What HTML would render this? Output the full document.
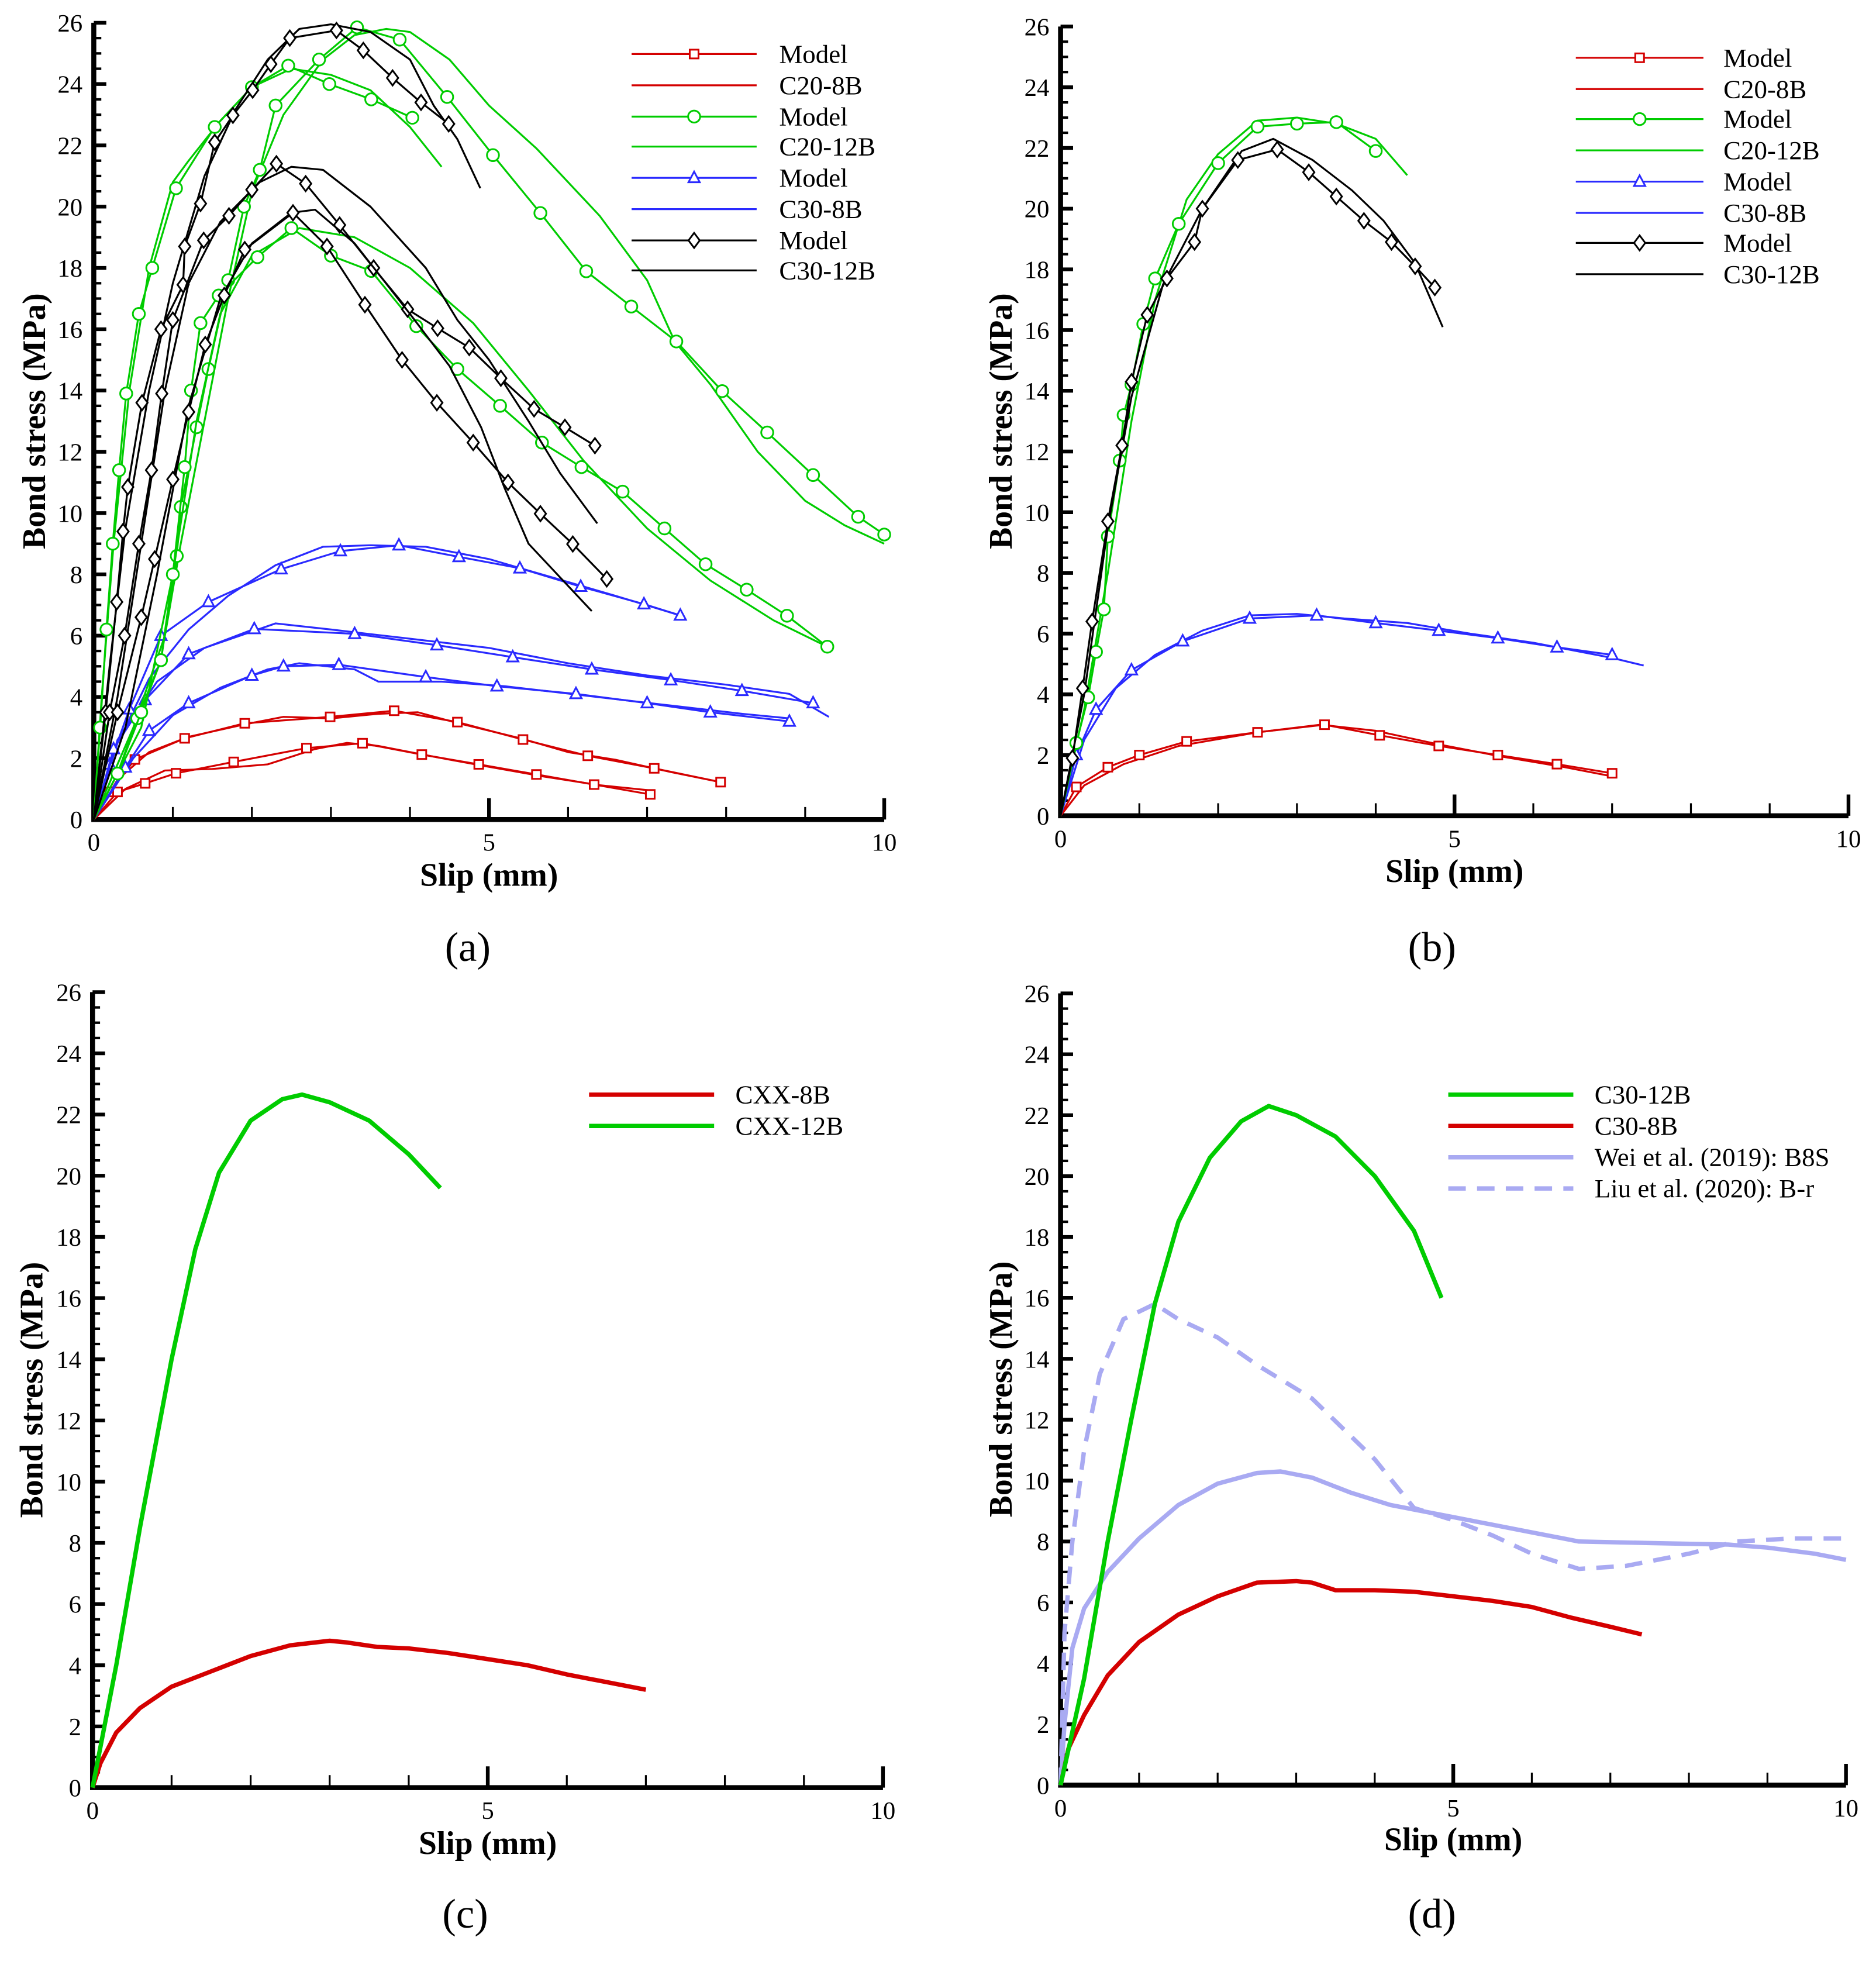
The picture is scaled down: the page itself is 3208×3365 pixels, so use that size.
<!DOCTYPE html>
<html><head><meta charset="utf-8"><style>
html,body{margin:0;padding:0;background:#fff;}
svg{display:block;}
text{font-family:"Liberation Serif",serif;fill:#000;}
</style></head><body>
<svg id="chart" xmlns="http://www.w3.org/2000/svg" width="3208" height="3365" viewBox="0 0 1500 1573">
<rect x="0" y="0" width="1500" height="1573" fill="#fff"/>
</svg>
<script>
// ---- Panel (a) data [slip mm, stress MPa] ----
const aRedUpModel=[[0,0],[0.2,0.9],[0.52,1.96],[1.15,2.65],[1.91,3.14],[2.99,3.35],[3.8,3.55],[4.6,3.18],[5.43,2.61],[6.25,2.08],[7.09,1.67],[7.93,1.22]];
const aRedUpExp=[[0,0],[0.3,1.3],[0.7,2.2],[1.2,2.7],[1.9,3.1],[2.4,3.35],[3.0,3.3],[3.6,3.45],[4.1,3.5],[4.6,3.15],[5.4,2.65],[6.0,2.2],[6.6,1.95],[7.3,1.55],[7.93,1.22]];
const aRedLoModel=[[0,0],[0.3,0.9],[0.65,1.18],[1.04,1.51],[1.77,1.88],[2.69,2.33],[3.4,2.49],[4.15,2.12],[4.87,1.8],[5.6,1.47],[6.33,1.14],[7.04,0.82]];
const aRedLoExp=[[0,0],[0.4,1.0],[0.9,1.6],[1.5,1.65],[2.2,1.8],[2.8,2.3],[3.2,2.5],[3.6,2.4],[4.3,2.05],[5.0,1.72],[5.7,1.4],[6.4,1.12],[7.04,0.95]];
const aBlueTopModel=[[0,0],[0.2,1.8],[0.45,3.6],[0.85,6.0],[1.45,7.1],[2.37,8.17],[3.12,8.76],[3.86,8.95],[4.62,8.57],[5.39,8.2],[6.16,7.6],[6.96,7.03],[7.42,6.66]];
const aBlueTopExp=[[0,0],[0.3,2.5],[0.7,4.6],[1.2,6.2],[1.7,7.3],[2.3,8.3],[2.9,8.9],[3.5,8.95],[4.2,8.9],[5.0,8.5],[5.8,7.9],[6.6,7.3],[7.42,6.66]];
const aBlueMidModel=[[0,0],[0.25,2.3],[0.65,3.9],[1.2,5.4],[2.03,6.22],[3.3,6.06],[4.34,5.69],[5.3,5.3],[6.3,4.9],[7.3,4.55],[8.2,4.2],[9.1,3.8]];
const aBlueMidExp=[[0,0],[0.3,2.6],[0.8,4.5],[1.4,5.6],[2.3,6.4],[3.0,6.2],[4.0,5.9],[5.0,5.6],[6.0,5.1],[7.0,4.7],[8.0,4.4],[8.8,4.1],[9.3,3.35]];
const aBlueLoModel=[[0,0],[0.4,1.7],[0.7,2.9],[1.2,3.8],[2.0,4.7],[2.4,5.0],[3.1,5.05],[4.2,4.65],[5.1,4.35],[6.1,4.1],[7.0,3.8],[7.8,3.5],[8.8,3.2]];
const aBlueLoExp=[[0,0],[0.5,2.0],[1.0,3.4],[1.6,4.3],[2.2,4.9],[2.6,5.1],[3.3,4.9],[3.6,4.5],[4.4,4.5],[5.2,4.35],[6.2,4.05],[7.2,3.75],[8.2,3.45],[8.8,3.3]];
const aGreenTopModel=[[0,0],[0.3,1.5],[0.55,3.3],[0.85,5.2],[1.05,8.6],[1.1,10.2],[1.3,12.8],[1.45,14.7],[1.7,17.6],[1.9,20.0],[2.1,21.2],[2.3,23.3],[2.85,24.8],[3.33,25.85],[3.87,25.45],[4.47,23.58],[5.05,21.68],[5.65,19.79],[6.23,17.89],[6.8,16.74],[7.37,15.6],[7.95,13.98],[8.52,12.63],[9.1,11.24],[9.67,9.88],[10,9.3]];
const aGreenTopExp=[[0,0],[0.5,3],[0.9,6],[1.1,9],[1.4,13],[1.7,17],[2.0,20.5],[2.4,23],[2.9,24.8],[3.3,25.6],[3.7,25.8],[4.0,25.7],[4.5,24.8],[5.0,23.3],[5.6,21.9],[6.4,19.7],[7.0,17.6],[7.35,15.6],[7.8,14.2],[8.4,12.0],[9.0,10.4],[9.5,9.6],[10,9.0]];
const aGreenMidModel=[[0,0],[0.3,1.5],[0.6,3.5],[0.85,5.2],[1.0,8.0],[1.15,11.5],[1.23,14.0],[1.35,16.2],[1.58,17.1],[2.07,18.35],[2.5,19.3],[3.0,18.4],[3.51,17.9],[4.08,16.1],[4.6,14.7],[5.14,13.5],[5.67,12.3],[6.17,11.5],[6.69,10.7],[7.22,9.5],[7.74,8.33],[8.26,7.5],[8.77,6.65],[9.28,5.64]];
const aGreenMidExp=[[0,0],[0.6,3],[1.0,8],[1.3,13],[1.6,16.5],[2.0,18.4],[2.6,19.3],[3.3,19.0],[4.0,18.0],[4.8,16.2],[5.5,14.0],[6.2,11.7],[7.0,9.5],[7.8,7.8],[8.6,6.5],[9.28,5.64]];
const aGreenSteepModel=[[0,0],[0.08,3],[0.16,6.2],[0.24,9.0],[0.32,11.4],[0.41,13.9],[0.57,16.5],[0.74,18.0],[1.04,20.6],[1.53,22.6],[2.0,23.9],[2.46,24.6],[2.98,24.0],[3.51,23.5],[4.03,22.9]];
const aGreenSteepExp=[[0,0],[0.1,4],[0.25,9],[0.45,14],[0.7,18],[1.0,20.8],[1.2,21.5],[1.6,22.8],[2.0,23.9],[2.5,24.5],[3.0,24.3],[3.5,23.8],[4.0,22.6],[4.4,21.3]];
const aBlack1Model=[[0,0],[0.15,3.5],[0.29,7.1],[0.37,9.4],[0.43,10.85],[0.61,13.6],[0.85,16.0],[1.13,17.45],[1.15,18.7],[1.35,20.1],[1.53,22.1],[1.76,22.98],[2.01,23.8],[2.24,24.65],[2.48,25.5],[3.07,25.75],[3.41,25.1],[3.78,24.2],[4.14,23.4],[4.49,22.7]];
const aBlack1Exp=[[0,0],[0.2,5],[0.4,9.5],[0.7,14],[1.0,17.5],[1.4,21],[1.8,23.2],[2.2,24.8],[2.6,25.8],[3.0,25.95],[3.5,25.7],[4.0,24.8],[4.3,23.3],[4.6,22.2],[4.89,20.6]];
const aBlack2Model=[[0,0],[0.2,3.5],[0.39,6.0],[0.57,9.0],[0.73,11.4],[0.86,13.9],[1.0,16.3],[1.39,18.9],[1.71,19.7],[2.0,20.55],[2.31,21.4],[2.68,20.75],[3.11,19.4],[3.54,18.0],[3.97,16.65],[4.35,16.03],[4.75,15.4],[5.15,14.4],[5.57,13.4],[5.96,12.8],[6.34,12.2]];
const aBlack2Exp=[[0,0],[0.3,4],[0.6,9],[0.9,14],[1.2,17.5],[1.6,19.5],[2.1,20.8],[2.5,21.3],[2.9,21.2],[3.5,20.0],[4.2,18.0],[4.6,16.3],[5.0,15.0],[5.5,13.0],[5.9,11.3],[6.37,9.66]];
const aBlack3Model=[[0,0],[0.3,3.5],[0.6,6.6],[0.77,8.5],[1.0,11.1],[1.2,13.3],[1.41,15.5],[1.65,17.1],[1.91,18.6],[2.52,19.8],[2.95,18.7],[3.43,16.8],[3.9,15.0],[4.34,13.6],[4.8,12.3],[5.24,11.0],[5.65,9.98],[6.06,8.99],[6.49,7.85]];
const aBlack3Exp=[[0,0],[0.4,3],[0.8,8],[1.2,13.5],[1.6,17],[2.0,18.8],[2.5,19.8],[2.8,19.9],[3.3,18.8],[4.0,16.5],[4.5,14.8],[4.9,12.8],[5.2,10.8],[5.5,9.0],[5.9,7.9],[6.3,6.8]];
// ---- Panel (b) ----
const bGreenModel=[[0,0],[0.2,2.4],[0.35,3.9],[0.45,5.4],[0.55,6.8],[0.6,9.2],[0.75,11.7],[0.8,13.2],[0.9,14.2],[1.05,16.2],[1.2,17.7],[1.5,19.5],[2.0,21.5],[2.5,22.7],[3.0,22.8],[3.5,22.85],[4.0,21.9]];
const bGreenExp=[[0,0],[0.3,3.5],[0.6,8],[0.9,13],[1.2,17],[1.6,20.3],[2.0,21.8],[2.5,22.9],[3.0,23.0],[3.5,22.8],[4.0,22.3],[4.4,21.1]];
const bBlackModel=[[0,0],[0.15,1.9],[0.28,4.2],[0.4,6.4],[0.6,9.7],[0.78,12.2],[0.9,14.3],[1.1,16.5],[1.35,17.7],[1.7,18.9],[1.8,20.0],[2.25,21.6],[2.75,21.95],[3.15,21.2],[3.5,20.4],[3.85,19.6],[4.2,18.9],[4.5,18.1],[4.75,17.4]];
const bBlackExp=[[0,0],[0.3,4],[0.6,9.5],[0.9,13.8],[1.3,17.5],[1.8,20],[2.3,21.9],[2.7,22.3],[3.2,21.6],[3.7,20.6],[4.1,19.6],[4.5,18.2],[4.85,16.1]];
const bBlueModel=[[0,0],[0.2,2.0],[0.45,3.5],[0.9,4.8],[1.55,5.75],[2.4,6.5],[3.25,6.6],[4.0,6.35],[4.8,6.1],[5.55,5.85],[6.3,5.55],[7.0,5.3]];
const bBlueExp=[[0,0],[0.3,2.5],[0.7,4.2],[1.2,5.3],[1.8,6.1],[2.4,6.6],[3.0,6.65],[3.6,6.5],[4.4,6.35],[5.2,6.0],[6.0,5.7],[7.0,5.2],[7.4,4.95]];
const bRedModel=[[0,0],[0.2,0.95],[0.6,1.6],[1.0,2.0],[1.6,2.45],[2.5,2.75],[3.35,3.0],[4.05,2.65],[4.8,2.3],[5.55,2.0],[6.3,1.7],[7.0,1.4]];
const bRedExp=[[0,0],[0.3,1.0],[0.8,1.7],[1.5,2.3],[2.5,2.75],[3.3,3.0],[4.0,2.8],[4.8,2.35],[5.6,1.95],[6.4,1.6],[7.0,1.3]];
// ---- Panel (c) ----
const cGreen12B=[[0,0],[0.3,4],[0.6,8.5],[1.0,14],[1.3,17.6],[1.6,20.1],[2.0,21.8],[2.4,22.5],[2.65,22.65],[3.0,22.4],[3.5,21.8],[4.0,20.7],[4.4,19.6]];
const cRed8B=[[0,0],[0.1,0.8],[0.3,1.8],[0.6,2.6],[1.0,3.3],[1.5,3.8],[2.0,4.3],[2.5,4.65],[3.0,4.8],[3.2,4.75],[3.6,4.6],[4.0,4.55],[4.5,4.4],[5.0,4.2],[5.5,4.0],[6.0,3.7],[6.5,3.45],[7.0,3.2]];
// ---- Panel (d) ----
const dGreenC30_12B=[[0,0],[0.3,3.5],[0.6,8],[0.9,12],[1.2,15.8],[1.5,18.5],[1.9,20.6],[2.3,21.8],[2.65,22.3],[3.0,22.0],[3.5,21.3],[4.0,20.0],[4.5,18.2],[4.85,16.0]];
const dRedC30_8B=[[0,0],[0.1,1.2],[0.3,2.3],[0.6,3.6],[1.0,4.7],[1.5,5.6],[2.0,6.2],[2.5,6.65],[3.0,6.7],[3.2,6.65],[3.5,6.4],[4.0,6.4],[4.5,6.35],[5.0,6.2],[5.5,6.05],[6.0,5.85],[6.5,5.5],[7.0,5.2],[7.4,4.95]];
const dWeiB8S=[[0,0],[0.05,2],[0.15,4.5],[0.3,5.8],[0.6,7.0],[1.0,8.1],[1.5,9.2],[2.0,9.9],[2.5,10.25],[2.8,10.3],[3.2,10.1],[3.7,9.6],[4.2,9.2],[5.0,8.8],[6.0,8.3],[6.6,8.0],[7.5,7.95],[8.5,7.9],[9.0,7.8],[9.6,7.6],[10,7.4]];
const dLiuBr=[[0,0],[0.05,5],[0.15,8],[0.3,11],[0.5,13.5],[0.8,15.3],[1.2,15.8],[1.5,15.3],[2.0,14.7],[2.5,13.8],[3.2,12.7],[4.0,10.7],[4.5,9.1],[5.0,8.7],[5.5,8.2],[6.0,7.6],[6.6,7.1],[7.2,7.2],[8.0,7.6],[8.6,8.0],[9.3,8.1],[10,8.1]];
const yTicks=[0,2,4,6,8,10,12,14,16,18,20,22,24,26];
const xTicks=[0,5,10];

const NS='http://www.w3.org/2000/svg';
const svg=document.getElementById('chart');
const RED='#d40000',GREEN='#00cc00',BLUE='#2a2aff',BLACK='#000000',LBLUE='#a9aaf2';
const panels={
 a:{x0:75,x1:707,y0:655,y1:18,label:'(a)',lx:374,ly:768,tx:391,ty:708,yt:27},
 b:{x0:848,x1:1478,y0:652,y1:21,label:'(b)',lx:1145,ly:768,tx:1163,ty:705,yt:800},
 c:{x0:74,x1:706,y0:1429,y1:793,label:'(c)',lx:372,ly:1541,tx:390,ty:1482,yt:25},
 d:{x0:848,x1:1476,y0:1427,y1:794,label:'(d)',lx:1145,ly:1541,tx:1162,ty:1479,yt:800}
};
function mk(tag,parent){const e=document.createElementNS(NS,tag);(parent||svg).appendChild(e);return e;}
function sx(p,v){return p.x0+(p.x1-p.x0)*v/10;}
function sy(p,v){return p.y0-(p.y0-p.y1)*v/26;}

function drawAxes(key){
 const p=panels[key];
 const g=mk('g');
 
 
 for(let v=0;v<=26.001;v+=0.5){
  const major=Math.abs(v%2)<1e-6;
  const t=mk('line',g);
  
  
  t.setAttribute('x1',p.x0);t.setAttribute('x2',p.x0+(major?10:6));
  t.setAttribute('y1',sy(p,v));t.setAttribute('y2',sy(p,v));
  t.setAttribute('stroke','#000');t.setAttribute('stroke-width',major?3:2);
 }
 for(let v=1;v<=10;v++){
  const major=(v%5===0);
  const t=mk('line',g);
  
  
  t.setAttribute('x1',sx(p,v));t.setAttribute('x2',sx(p,v));
  t.setAttribute('y1',p.y0);t.setAttribute('y2',p.y0-(major?17:10));
  t.setAttribute('stroke','#000');t.setAttribute('stroke-width',major?3:1.5);
 }
 const ax=mk('path',g);
 
 
 ax.setAttribute('d','M'+p.x0+' '+p.y1+' L'+p.x0+' '+p.y0+' L'+p.x1+' '+p.y0);
 ax.setAttribute('fill','none');ax.setAttribute('stroke','#000');ax.setAttribute('stroke-width',4);
 yTicks.forEach(v=>{
  const t=mk('text',g);
  
  
  t.setAttribute('x',p.x0-9);t.setAttribute('y',sy(p,v)+7);
  t.setAttribute('text-anchor','end');t.setAttribute('font-size','20');
  t.textContent=v;
 });
 xTicks.forEach(v=>{
  const t=mk('text',g);
  
  
  t.setAttribute('x',sx(p,v));t.setAttribute('y',p.y0+25);
  t.setAttribute('text-anchor','middle');t.setAttribute('font-size','20');
  t.textContent=v;
 });
 const xt=mk('text',g);
 
 
 xt.setAttribute('x',p.tx);xt.setAttribute('y',p.ty);xt.setAttribute('text-anchor','middle');
 xt.setAttribute('font-size','26');xt.setAttribute('font-weight','bold');
 xt.textContent='Slip (mm)';
 const yt=mk('text',g);
 
 
 const cy=(p.y0+p.y1)/2;
 yt.setAttribute('transform','translate('+(p.yt+9)+','+cy+') rotate(-90)');
 yt.setAttribute('text-anchor','middle');yt.setAttribute('font-size','26');yt.setAttribute('font-weight','bold');
 yt.textContent='Bond stress (MPa)';
 const pl=mk('text',g);
 
 
 pl.setAttribute('x',p.lx);pl.setAttribute('y',p.ly);pl.setAttribute('text-anchor','middle');pl.setAttribute('font-size','33');
 pl.textContent=p.label;
}

function marker(g,type,x,y,color){
 let m;
 if(type==='square'){m=mk('rect',g);m.setAttribute('x',x-3.5);m.setAttribute('y',y-3.5);m.setAttribute('width',7);m.setAttribute('height',7);}
 else if(type==='circle'){m=mk('circle',g);m.setAttribute('cx',x);m.setAttribute('cy',y);m.setAttribute('r',4.8);}
 else if(type==='triangle'){m=mk('path',g);m.setAttribute('d','M'+x+' '+(y-5)+' L'+(x+4.5)+' '+(y+3.5)+' L'+(x-4.5)+' '+(y+3.5)+'Z');}
 else {m=mk('path',g);m.setAttribute('d','M'+x+' '+(y-6)+' L'+(x+4.5)+' '+y+' L'+x+' '+(y+6)+' L'+(x-4.5)+' '+y+'Z');}
 
 
 m.setAttribute('fill','#fff');m.setAttribute('stroke',color);m.setAttribute('stroke-width',1.4);
}

function series(key,data,color,width,name,mtype,dash){
 const p=panels[key];
 const g=mk('g');
 
 
 const pl=mk('polyline',g);
 
 
 pl.setAttribute('points',data.map(d=>sx(p,d[0]).toFixed(2)+','+sy(p,d[1]).toFixed(2)).join(' '));
 pl.setAttribute('fill','none');pl.setAttribute('stroke',color);pl.setAttribute('stroke-width',width);
 pl.setAttribute('stroke-linejoin','round');
 if(dash)pl.setAttribute('stroke-dasharray',dash);
 if(mtype){data.forEach((d,i)=>{if(i>0)marker(g,mtype,sx(p,d[0]),sy(p,d[1]),color);});}
}

function legend(x1,x2,tx,rows){
 const g=mk('g');
 
 
 rows.forEach(r=>{
  const l=mk('line',g);
  
  
  l.setAttribute('x1',x1);l.setAttribute('x2',x2);l.setAttribute('y1',r.y);l.setAttribute('y2',r.y);
  l.setAttribute('stroke',r.c);l.setAttribute('stroke-width',r.w);
  if(r.dash)l.setAttribute('stroke-dasharray',r.dash);
  if(r.m)marker(g,r.m,(x1+x2)/2,r.y,r.c);
  const t=mk('text',g);
  
  
  t.setAttribute('x',tx);t.setAttribute('y',r.y+7);t.setAttribute('font-size','21');
  t.textContent=r.t;
 });
}

['a','b','c','d'].forEach(drawAxes);

// panel a
series('a',aRedUpExp,RED,1.5,'a-c20-8b-exp-upper');
series('a',aRedUpModel,RED,1.5,'a-c20-8b-model-upper','square');
series('a',aRedLoExp,RED,1.5,'a-c20-8b-exp-lower');
series('a',aRedLoModel,RED,1.5,'a-c20-8b-model-lower','square');
series('a',aBlueTopExp,BLUE,1.5,'a-c30-8b-exp-top');
series('a',aBlueTopModel,BLUE,1.5,'a-c30-8b-model-top','triangle');
series('a',aBlueMidExp,BLUE,1.5,'a-c30-8b-exp-mid');
series('a',aBlueMidModel,BLUE,1.5,'a-c30-8b-model-mid','triangle');
series('a',aBlueLoExp,BLUE,1.5,'a-c30-8b-exp-low');
series('a',aBlueLoModel,BLUE,1.5,'a-c30-8b-model-low','triangle');
series('a',aGreenTopExp,GREEN,1.5,'a-c20-12b-exp-top');
series('a',aGreenTopModel,GREEN,1.5,'a-c20-12b-model-top','circle');
series('a',aGreenMidExp,GREEN,1.5,'a-c20-12b-exp-mid');
series('a',aGreenMidModel,GREEN,1.5,'a-c20-12b-model-mid','circle');
series('a',aGreenSteepExp,GREEN,1.5,'a-c20-12b-exp-steep');
series('a',aGreenSteepModel,GREEN,1.5,'a-c20-12b-model-steep','circle');
series('a',aBlack1Exp,BLACK,1.5,'a-c30-12b-exp-1');
series('a',aBlack1Model,BLACK,1.5,'a-c30-12b-model-1','diamond');
series('a',aBlack2Exp,BLACK,1.5,'a-c30-12b-exp-2');
series('a',aBlack2Model,BLACK,1.5,'a-c30-12b-model-2','diamond');
series('a',aBlack3Exp,BLACK,1.5,'a-c30-12b-exp-3');
series('a',aBlack3Model,BLACK,1.5,'a-c30-12b-model-3','diamond');
legend(505,605,623,[
 {y:43,c:RED,w:1.5,m:'square',t:'Model'},{y:68,c:RED,w:1.5,t:'C20-8B'},
 {y:93,c:GREEN,w:1.5,m:'circle',t:'Model'},{y:117,c:GREEN,w:1.5,t:'C20-12B'},
 {y:142,c:BLUE,w:1.5,m:'triangle',t:'Model'},{y:167,c:BLUE,w:1.5,t:'C30-8B'},
 {y:192,c:BLACK,w:1.5,m:'diamond',t:'Model'},{y:216,c:BLACK,w:1.5,t:'C30-12B'}]);

// panel b
series('b',bRedExp,RED,1.5,'b-c20-8b-exp');
series('b',bRedModel,RED,1.5,'b-c20-8b-model','square');
series('b',bBlueExp,BLUE,1.5,'b-c30-8b-exp');
series('b',bBlueModel,BLUE,1.5,'b-c30-8b-model','triangle');
series('b',bGreenExp,GREEN,1.5,'b-c20-12b-exp');
series('b',bGreenModel,GREEN,1.5,'b-c20-12b-model','circle');
series('b',bBlackExp,BLACK,1.5,'b-c30-12b-exp');
series('b',bBlackModel,BLACK,1.5,'b-c30-12b-model','diamond');
legend(1260,1362,1378,[
 {y:46,c:RED,w:1.5,m:'square',t:'Model'},{y:71,c:RED,w:1.5,t:'C20-8B'},
 {y:95,c:GREEN,w:1.5,m:'circle',t:'Model'},{y:120,c:GREEN,w:1.5,t:'C20-12B'},
 {y:145,c:BLUE,w:1.5,m:'triangle',t:'Model'},{y:170,c:BLUE,w:1.5,t:'C30-8B'},
 {y:194,c:BLACK,w:1.5,m:'diamond',t:'Model'},{y:219,c:BLACK,w:1.5,t:'C30-12B'}]);

// panel c
series('c',cRed8B,RED,3.5,'c-cxx-8b');
series('c',cGreen12B,GREEN,3.5,'c-cxx-12b');
legend(471,571,588,[{y:875,c:RED,w:3.5,t:'CXX-8B'},{y:900,c:GREEN,w:3.5,t:'CXX-12B'}]);

// panel d
series('d',dLiuBr,LBLUE,3.5,'d-liu-2020-b-r',null,'14 9');
series('d',dWeiB8S,LBLUE,3.5,'d-wei-2019-b8s');
series('d',dRedC30_8B,RED,3.5,'d-c30-8b');
series('d',dGreenC30_12B,GREEN,3.5,'d-c30-12b');
legend(1158,1258,1275,[
 {y:875,c:GREEN,w:3.5,t:'C30-12B'},{y:900,c:RED,w:3.5,t:'C30-8B'},
 {y:925,c:LBLUE,w:3.5,t:'Wei et al. (2019): B8S'},{y:950,c:LBLUE,w:3.5,dash:'14 9',t:'Liu et al. (2020): B-r'}]);
</script>
</body></html>
